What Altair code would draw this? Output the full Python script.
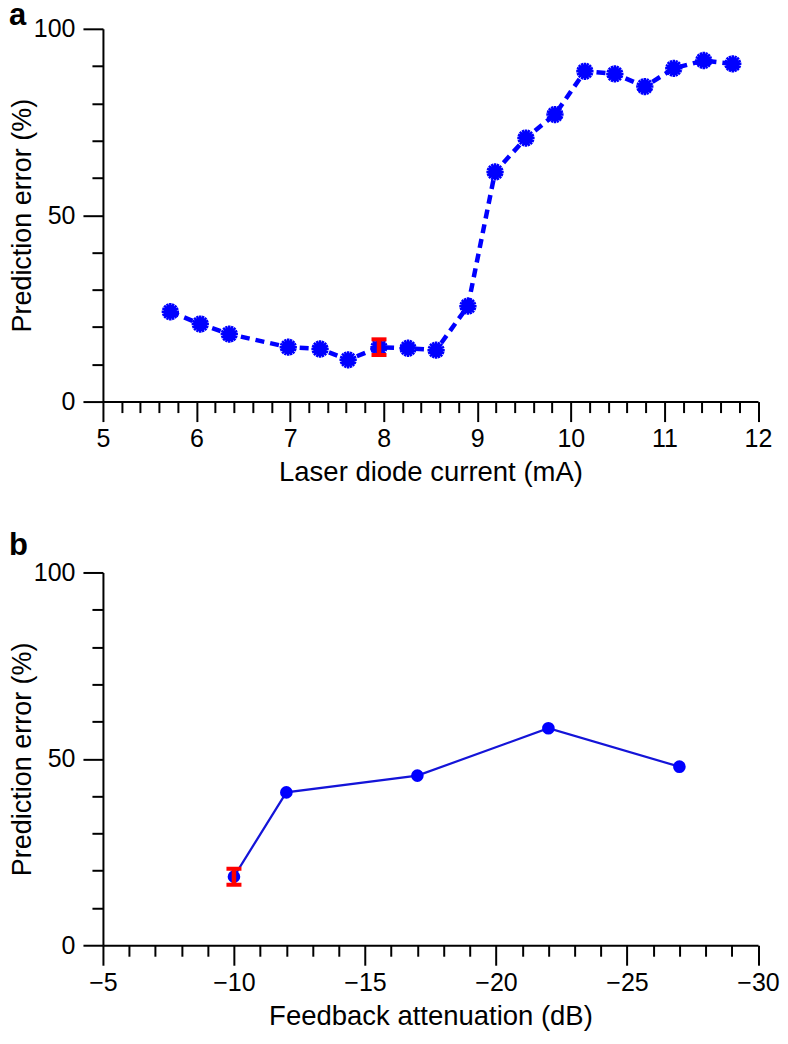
import altair as alt
import pandas as pd

FONT = "Liberation Sans"
BLUE = "#0000ff"
RED = "#ff0000"

# ---------------- Panel a data ----------------
current_mA = [5.72, 6.04, 6.35, 6.98, 7.32, 7.62, 7.95, 8.26, 8.56, 8.90,
              9.19, 9.52, 9.83, 10.15, 10.47, 10.79, 11.10, 11.42, 11.73]
error_a = [24.1, 20.8, 18.1, 14.6, 14.1, 11.2, 14.6, 14.3, 13.8, 25.6,
           61.6, 70.7, 77.0, 88.6, 87.9, 84.5, 89.4, 91.5, 90.6]
errbar_a_x = [7.95]
errbar_a_lo = [12.5]
errbar_a_hi = [16.7]

# ---------------- Panel b data ----------------
attenuation_dB = [-10, -12, -17, -22, -27]
error_b = [18.4, 41.0, 45.5, 58.2, 47.9]
errbar_b_x = [-10]
errbar_b_lo = [16.2]
errbar_b_hi = [20.5]

# ---------------- ticks ----------------
x_major_a = [5, 6, 7, 8, 9, 10, 11, 12]
x_minor_a = [round(5 + 0.2 * i, 1) for i in range(36) if i % 5]
x_major_b = [-5, -10, -15, -20, -25, -30]
x_minor_b = [-5 - i for i in range(26) if i % 5]
y_major = [0, 50, 100]
y_minor = [10, 20, 30, 40, 60, 70, 80, 90]

panel_labels = ["a", "b"]
y_title = "Prediction error (%)"
x_title_a = "Laser diode current (mA)"
x_title_b = "Feedback attenuation (dB)"

W, H = 655.5, 373

ASTERISK = ("M-1,0L1,0M0,-1L0,1M-0.71,-0.71L0.71,0.71M-0.71,0.71L0.71,-0.71"
            "M-0.92,-0.38L0.92,0.38M-0.92,0.38L0.92,-0.38M-0.38,-0.92L0.38,0.92M-0.38,0.92L0.38,-0.92")


def major_x(values, title):
    return alt.Axis(values=values, orient="bottom", tickSize=20, tickWidth=2, tickColor="black",
                    domainWidth=2, domainColor="black", grid=False,
                    labelFontSize=25, labelFont=FONT, labelColor="black", labelPadding=5,
                    labelFlush=False, labelOverlap=False, format="d",
                    title=title, titleFontSize=27.5, titleFont=FONT, titleFontWeight="normal",
                    titleColor="black", titlePadding=7)


def minor_x(values):
    return alt.Axis(values=values, orient="bottom", tickSize=11, tickWidth=2, tickColor="black",
                    domain=False, labels=False, grid=False, title=None)


def major_y():
    return alt.Axis(values=y_major, orient="left", tickSize=20, tickWidth=2, tickColor="black",
                    domainWidth=2, domainColor="black", grid=False,
                    labelFontSize=25, labelFont=FONT, labelColor="black", labelPadding=8,
                    labelFlush=False, labelOverlap=False,
                    title=y_title, titleFontSize=27, titleFont=FONT, titleFontWeight="normal",
                    titleColor="black", titlePadding=-3)


def minor_y():
    return alt.Axis(values=y_minor, orient="left", tickSize=11, tickWidth=2, tickColor="black",
                    domain=False, labels=False, grid=False, title=None)


def panel(xs, ys, ex, elo, ehi, xdom, xmaj, xmin, xtitle, label, label_dy, style):
    df = pd.DataFrame({"x": xs, "y": ys})
    de = pd.DataFrame({"x": ex, "lo": elo, "hi": ehi})
    dl = pd.DataFrame({"label": [label]})
    xs_ = alt.Scale(domain=xdom, nice=False, zero=False)
    ys_ = alt.Scale(domain=[0, 100], nice=False, zero=False)

    if style == "a":
        line = alt.Chart(df).mark_line(color=BLUE, strokeWidth=4.5, strokeDash=[9, 6]).encode(
            x=alt.X("x:Q", scale=xs_, axis=major_x(xmaj, xtitle)),
            y=alt.Y("y:Q", scale=ys_, axis=major_y()))
        m1 = alt.Chart(df).mark_point(shape=ASTERISK, size=300, filled=False, stroke=BLUE,
                                      strokeWidth=2.5, opacity=1).encode(
            x=alt.X("x:Q", scale=xs_, axis=minor_x(xmin)),
            y=alt.Y("y:Q", scale=ys_, axis=minor_y()))
        m2 = alt.Chart(df).mark_point(shape="circle", size=60, filled=True, color=BLUE,
                                      opacity=1).encode(
            x=alt.X("x:Q", scale=xs_, axis=None),
            y=alt.Y("y:Q", scale=ys_, axis=None))
    else:
        line = alt.Chart(df).mark_line(color="#1414d8", strokeWidth=2.2).encode(
            x=alt.X("x:Q", scale=xs_, axis=major_x(xmaj, xtitle)),
            y=alt.Y("y:Q", scale=ys_, axis=major_y()))
        m1 = alt.Chart(df).mark_point(shape="circle", size=160, filled=True, color=BLUE,
                                      opacity=1).encode(
            x=alt.X("x:Q", scale=xs_, axis=minor_x(xmin)),
            y=alt.Y("y:Q", scale=ys_, axis=minor_y()))
        m2 = None

    rule = alt.Chart(de).mark_rule(color=RED, strokeWidth=4.5).encode(
        x=alt.X("x:Q", scale=xs_, axis=None),
        y=alt.Y("lo:Q", scale=ys_, axis=None), y2="hi:Q")
    cap_lo = alt.Chart(de).mark_tick(color=RED, orient="horizontal", size=15, thickness=4,
                                     opacity=1).encode(
        x=alt.X("x:Q", scale=xs_, axis=None),
        y=alt.Y("lo:Q", scale=ys_, axis=None))
    cap_hi = alt.Chart(de).mark_tick(color=RED, orient="horizontal", size=15, thickness=4,
                                     opacity=1).encode(
        x=alt.X("x:Q", scale=xs_, axis=None),
        y=alt.Y("hi:Q", scale=ys_, axis=None))
    txt = alt.Chart(dl).mark_text(align="left", baseline="top", fontSize=31,
                                  fontWeight="bold", font=FONT, color="black").encode(
        x=alt.value(-94), y=alt.value(label_dy), text="label:N")

    layers = [line, m1] + ([m2] if m2 is not None else []) + [rule, cap_lo, cap_hi, txt]
    return alt.layer(*layers).resolve_axis(x="independent", y="independent").properties(
        width=W, height=H)


top = panel(current_mA, error_a, errbar_a_x, errbar_a_lo, errbar_a_hi, [5, 12],
            x_major_a, x_minor_a, x_title_a, panel_labels[0], -27.5, "a")
bottom = panel(attenuation_dB, error_b, errbar_b_x, errbar_b_lo, errbar_b_hi, [-5, -30],
               x_major_b, x_minor_b, x_title_b, panel_labels[1], -41, "b")

chart = alt.vconcat(top, bottom, spacing=171, bounds="flush").properties(
    padding={"left": 0, "top": -8.5, "right": 0, "bottom": 0}
).configure_view(stroke=None)

chart.save("out.html", embed_options={"renderer": "svg", "actions": False})
